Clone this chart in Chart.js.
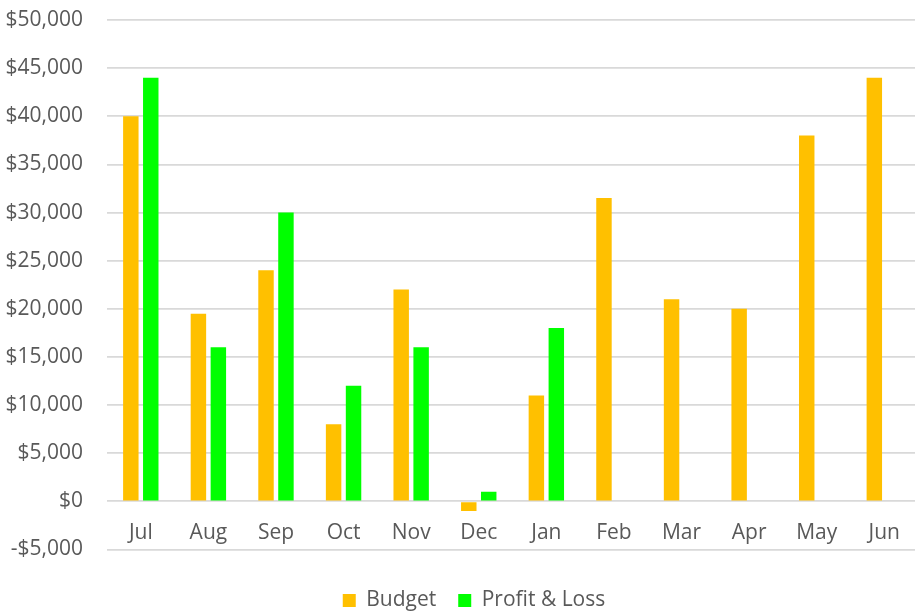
<!DOCTYPE html>
<html>
<head>
<meta charset="utf-8">
<script src="https://cdn.jsdelivr.net/npm/chart.js@4"></script>
<style>
  html, body { margin: 0; padding: 0; background: #fff; overflow: hidden; }
  #wrap { width: 919px; height: 612px; }
</style>
</head>
<body>
<div id="wrap"><canvas id="chart"></canvas></div>
<script>
// Monate (Geschaeftsjahr Jul - Jun)
const months = ['Jul', 'Aug', 'Sep', 'Oct', 'Nov', 'Dec', 'Jan', 'Feb', 'Mar', 'Apr', 'May', 'Jun'];
const budget = [40000, 19500, 24000, 8000, 22000, -1000, 11000, 31500, 21000, 20000, 38000, 44000];
const profitLoss = [44000, 16000, 30000, 12000, 16000, 1000, 18000, null, null, null, null, null];
const seriesNames = ['Budget', 'Profit & Loss'];

const textColor = '#595959';
const fontFamily = "'Open Sans', 'Liberation Sans', sans-serif";

function money(v) {
  const s = '$' + Math.abs(v).toLocaleString('en-US');
  return v < 0 ? '-' + s : s;
}

// Legende: kompakter und leicht nach rechts versetzt (wie im Original)
const legendFit = {
  id: 'legendFit',
  beforeInit(chart) {
    const fit = chart.legend.fit;
    chart.legend.fit = function () {
      fit.bind(chart.legend)();
      this.height -= 9;
    };
  },
  afterLayout(chart) {
    chart.legend.left += 29;
  }
};

new Chart(document.getElementById('chart'), {
  type: 'bar',
  data: {
    labels: months,
    datasets: [{
      label: seriesNames[0],
      data: budget,
      backgroundColor: '#FFC000',
      borderWidth: 0
    }, {
      label: seriesNames[1],
      data: profitLoss,
      backgroundColor: '#00FF00',
      borderWidth: 0
    }]
  },
  options: {
    responsive: true,
    maintainAspectRatio: false,
    animation: false,
    datasets: {
      bar: { categoryPercentage: 0.59, barPercentage: 0.775 }
    },
    layout: { padding: 0 },
    scales: {
      x: {
        position: { y: 0 },
        grid: { display: false, drawTicks: false },
        border: { display: false },
        ticks: {
          color: textColor,
          font: { family: fontFamily, size: 21 },
          padding: 19
        }
      },
      y: {
        min: -5000,
        max: 50000,
        grid: { color: '#d9d9d9', lineWidth: 1.8, drawTicks: false },
        border: { display: false },
        ticks: {
          stepSize: 5000,
          color: textColor,
          font: { family: fontFamily, size: 21 },
          padding: 24,
          callback: v => money(v)
        },
        afterFit(scale) {
          // Platz fuer Beschriftung wie im Original
          scale.width = 107;
          scale.paddingTop = 20;
        }
      }
    },
    plugins: {
      legend: {
        position: 'bottom',
        title: {
          display: true,
          text: ' ',
          font: { size: 10, lineHeight: 1 },
          padding: { top: 8.5, bottom: 0 }
        },
        labels: {
          color: textColor,
          font: { family: fontFamily, size: 21 },
          boxWidth: 13,
          boxHeight: 13,
          padding: 22
        }
      },
      tooltip: { enabled: false }
    }
  },
  plugins: [legendFit]
});
</script>
</body>
</html>
